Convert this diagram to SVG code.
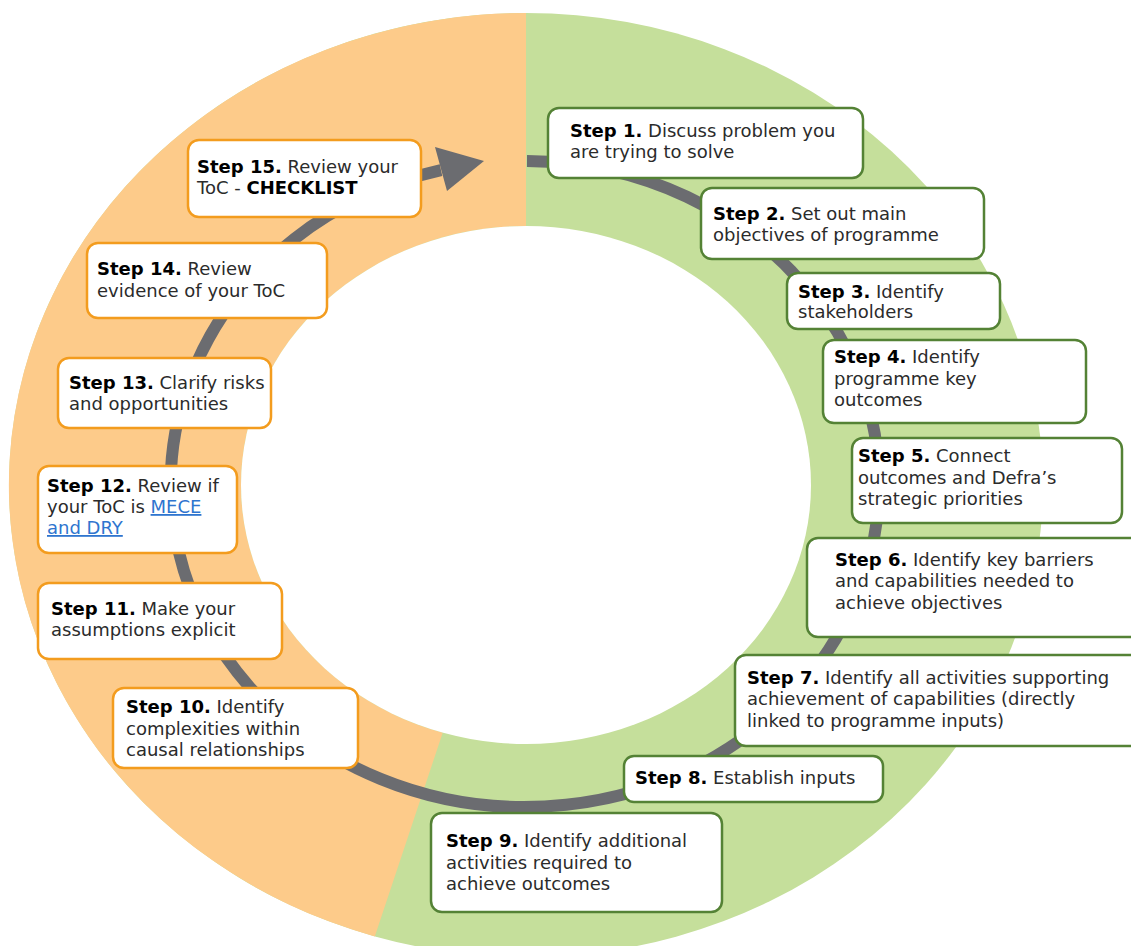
<svg xmlns="http://www.w3.org/2000/svg" width="1131" height="946" viewBox="0 0 1131 946">
<style>
.bg{fill:#ffffff}
.green{fill:#C5DF9B}
.orange{fill:#FDCB8A}
.hole{fill:#ffffff}
.ring{fill:none;stroke:#6B6C70;stroke-width:12}
.head{fill:#6B6C70}
.bo{fill:#ffffff;stroke:#F39C1E;stroke-width:2.5}
.bg2{fill:#ffffff;stroke:#548235;stroke-width:2.5}
text{font-family:"DejaVu Sans","Liberation Sans",sans-serif;font-size:18px;fill:#2b2b2b}
.b{font-weight:bold;fill:#000000}
.lnk{fill:#2F75CF;text-decoration:underline}
</style>
<rect class="bg" x="0" y="0" width="1131" height="946"/>
<g id="background">
<ellipse class="green" cx="526" cy="485" rx="517" ry="472"/>
<path class="orange" d="M 526 13 A 517 472 0 0 0 374.8 936.4 L 442.7 732.7 A 285 259 0 0 1 526 226 Z"/>
<ellipse class="hole" cx="526" cy="485" rx="285" ry="259"/>
</g>
<g id="connectors">
<path class="ring" d="M 527 161 A 354 323 0 1 1 441 170.2"/>
<polygon class="head" points="484,161 435,147 447,191"/>
</g>
<g id="step1">
<rect class="bg2" x="548" y="108" width="315" height="70" rx="11"/>
<text x="570" y="137"><tspan class="b">Step 1.</tspan> Discuss problem you</text>
<text x="570" y="158">are trying to solve</text>
</g>
<g id="step2">
<rect class="bg2" x="701" y="188" width="283" height="71" rx="11"/>
<text x="713" y="220"><tspan class="b">Step 2.</tspan> Set out main</text>
<text x="713" y="241">objectives of programme</text>
</g>
<g id="step3">
<rect class="bg2" x="787" y="273" width="213" height="56" rx="11"/>
<text x="798" y="298"><tspan class="b">Step 3.</tspan> Identify</text>
<text x="798" y="318">stakeholders</text>
</g>
<g id="step4">
<rect class="bg2" x="823" y="340" width="263" height="83" rx="11"/>
<text x="834" y="363"><tspan class="b">Step 4.</tspan> Identify</text>
<text x="834" y="385">programme key</text>
<text x="834" y="406">outcomes</text>
</g>
<g id="step5">
<rect class="bg2" x="852" y="438" width="270" height="85" rx="11"/>
<text x="858" y="462"><tspan class="b">Step 5.</tspan> Connect</text>
<text x="858" y="484">outcomes and Defra’s</text>
<text x="858" y="505">strategic priorities</text>
</g>
<g id="step6">
<rect class="bg2" x="807" y="538" width="340" height="99" rx="11"/>
<text x="835" y="566"><tspan class="b">Step 6.</tspan> Identify key barriers</text>
<text x="835" y="587">and capabilities needed to</text>
<text x="835" y="609">achieve objectives</text>
</g>
<g id="step7">
<rect class="bg2" x="735" y="655" width="412" height="91" rx="11"/>
<text x="747" y="684"><tspan class="b">Step 7.</tspan> Identify all activities supporting</text>
<text x="747" y="705">achievement of capabilities (directly</text>
<text x="747" y="727">linked to programme inputs)</text>
</g>
<g id="step8">
<rect class="bg2" x="624" y="756" width="259" height="46" rx="10"/>
<text x="635" y="784"><tspan class="b">Step 8.</tspan> Establish inputs</text>
</g>
<g id="step9">
<rect class="bg2" x="431" y="813" width="291" height="99" rx="11"/>
<text x="446" y="847"><tspan class="b">Step 9.</tspan> Identify additional</text>
<text x="446" y="869">activities required to</text>
<text x="446" y="890">achieve outcomes</text>
</g>
<g id="step10">
<rect class="bo" x="113" y="688" width="245" height="80" rx="11"/>
<text x="126" y="713"><tspan class="b">Step 10.</tspan> Identify</text>
<text x="126" y="735">complexities within</text>
<text x="126" y="756">causal relationships</text>
</g>
<g id="step11">
<rect class="bo" x="38" y="583" width="244" height="76" rx="11"/>
<text x="51" y="615"><tspan class="b">Step 11.</tspan> Make your</text>
<text x="51" y="636">assumptions explicit</text>
</g>
<g id="step12">
<rect class="bo" x="38" y="466" width="199" height="87" rx="11"/>
<text x="47" y="492"><tspan class="b">Step 12.</tspan> Review if</text>
<text x="47" y="513">your ToC is <tspan class="lnk">MECE</tspan></text>
<text x="47" y="534" class="lnk">and DRY</text>
</g>
<g id="step13">
<rect class="bo" x="58" y="358" width="213" height="70" rx="11"/>
<text x="69" y="389"><tspan class="b">Step 13.</tspan> Clarify risks</text>
<text x="69" y="410">and opportunities</text>
</g>
<g id="step14">
<rect class="bo" x="87" y="243" width="240" height="75" rx="11"/>
<text x="97" y="275"><tspan class="b">Step 14.</tspan> Review</text>
<text x="97" y="297">evidence of your ToC</text>
</g>
<g id="step15">
<rect class="bo" x="188" y="140" width="233" height="77" rx="11"/>
<text x="197" y="173"><tspan class="b">Step 15.</tspan> Review your</text>
<text x="197" y="194">ToC - <tspan class="b">CHECKLIST</tspan></text>
</g>
</svg>
